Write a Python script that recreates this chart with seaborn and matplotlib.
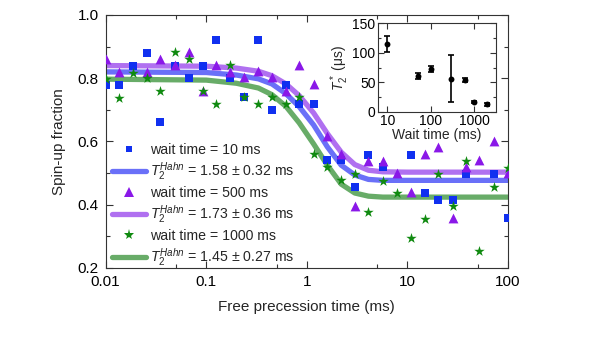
import numpy as np
import pandas as pd
import matplotlib
matplotlib.use("Agg")
import matplotlib.pyplot as plt
from matplotlib.ticker import LogLocator, NullLocator, MultipleLocator, FixedLocator, FormatStrFormatter
from matplotlib.lines import Line2D
import seaborn as sns

# free precession times (ms) of the measured points
t_ms = [0.01, 0.0137, 0.0188, 0.0256, 0.0346, 0.0488, 0.067, 0.092, 0.125, 0.172,
        0.237, 0.33, 0.45, 0.62, 0.84, 1.17, 1.6, 2.2, 3.0, 4.1,
        5.7, 7.9, 10.8, 14.9, 20.2, 28.4, 38.5, 52, 72, 99.5]
nan = np.nan
frac_10 = [0.78, 0.78, 0.84, 0.88, 0.66, 0.84, 0.80, 0.84, 0.92, 0.80,
           0.74, 0.92, 0.70, 0.78, 0.72, 0.72, 0.54, 0.54, 0.456, 0.558,
           0.518, nan, 0.558, 0.437, 0.416, 0.416, 0.497, nan, 0.497, 0.357]
frac_500 = [0.862, 0.821, nan, 0.821, 0.862, 0.842, 0.884, 0.76, 0.842, 0.821,
            0.804, 0.824, 0.804, 0.76, 0.842, 0.781, 0.617, 0.559, 0.397, 0.537,
            0.537, 0.50, 0.439, 0.559, 0.582, 0.358, 0.52, 0.54, 0.60, 0.50]
frac_1000 = [0.797, 0.739, 0.818, 0.80, 0.76, 0.882, 0.86, 0.76, 0.72, 0.841,
             0.741, 0.72, 0.741, 0.72, 0.741, 0.559, 0.519, 0.477, 0.498, 0.377,
             0.476, 0.437, 0.296, 0.356, 0.498, 0.395, 0.537, 0.255, 0.456, 0.517]

# fitted curves
fit_t = [0.01, 0.1, 0.2, 0.33, 0.45, 0.62, 0.84, 1.17, 1.6, 2.2, 3.0, 4.1, 5.7, 10, 100]
fit_10 = [0.820, 0.818, 0.810, 0.798, 0.782, 0.751, 0.710, 0.652, 0.583, 0.525,
          0.494, 0.480, 0.477, 0.477, 0.477]
fit_500 = [0.840, 0.838, 0.832, 0.822, 0.808, 0.782, 0.745, 0.690, 0.625, 0.566,
           0.527, 0.509, 0.504, 0.503, 0.503]
fit_1000 = [0.797, 0.794, 0.784, 0.769, 0.748, 0.711, 0.659, 0.592, 0.525, 0.465,
            0.437, 0.427, 0.424, 0.424, 0.424]

labels_pts = ["wait time = 10 ms", "wait time = 500 ms", "wait time = 1000 ms"]
labels_fit = [r"$T_2^{Hahn}$ = 1.58 ± 0.32 ms",
              r"$T_2^{Hahn}$ = 1.73 ± 0.36 ms",
              r"$T_2^{Hahn}$ = 1.45 ± 0.27 ms"]

# inset: T2* vs wait time
wait_ms = [10, 50, 100, 300, 600, 1000, 2000]
t2star_us = [115, 60, 72, 56, 54, 17, 12.5]
t2star_err = [13, 5, 5, 40, 4, 2, 3]

sns.set_style("ticks")
plt.rcParams['font.family'] = ['Liberation Sans', 'DejaVu Sans']
plt.rcParams['mathtext.fontset'] = 'custom'
plt.rcParams['mathtext.rm'] = 'Liberation Sans'
plt.rcParams['mathtext.it'] = 'Liberation Sans:italic'
plt.rcParams['axes.edgecolor'] = '#333333'
plt.rcParams['xtick.color'] = '#333333'
plt.rcParams['ytick.color'] = '#333333'
plt.rcParams['xtick.labelcolor'] = 'black'
plt.rcParams['ytick.labelcolor'] = 'black'

pt_cols = ['#1030f0', '#8a18e8', '#108a10']
fit_cols = ['#6a70f8', '#b070f0', '#68ac68']
markers = ['s', '^', '*']
msizes = [28, 50, 62]

fig = plt.figure(figsize=(5.92, 3.48), dpi=100)
ax = fig.add_axes([0.1785, 0.230, 0.6795, 0.727])

fits = [fit_10, fit_500, fit_1000]
pts = [frac_10, frac_500, frac_1000]
for i in range(3):
    sns.lineplot(x=fit_t, y=fits[i], ax=ax, color=fit_cols[i], lw=3.8,
                 estimator=None, zorder=2)
for i in range(3):
    df = pd.DataFrame({'t': t_ms, 'f': pts[i]}).dropna()
    sns.scatterplot(data=df, x='t', y='f', ax=ax, color=pt_cols[i], marker=markers[i],
                    s=msizes[i], linewidth=0, zorder=3)

ax.set_xscale('log')
ax.set_xlim(0.01, 100)
ax.set_ylim(0.2, 1.0)
ax.xaxis.set_major_locator(FixedLocator([0.01, 0.1, 1, 10, 100]))
ax.set_xticklabels(["0.01", "0.1", "1", "10", "100"])
ax.xaxis.set_minor_locator(LogLocator(base=10, subs=[5]))
ax.yaxis.set_major_locator(MultipleLocator(0.2))
ax.yaxis.set_minor_locator(MultipleLocator(0.1))
ax.yaxis.set_major_formatter(FormatStrFormatter('%.1f'))
ax.tick_params(which='both', direction='in', top=True, right=True, labelsize=11, width=0.8)
ax.tick_params(which='major', length=5, pad=5)
ax.tick_params(which='minor', length=3)
for s in ax.spines.values():
    s.set_linewidth(0.8)
ax.set_xlabel("Free precession time (ms)", fontsize=11, labelpad=8)
ax.set_ylabel("Spin-up fraction", fontsize=11, labelpad=8)

handles, labs = [], []
for i in range(3):
    handles.append(Line2D([], [], ls='none', marker=markers[i], color=pt_cols[i],
                          markersize=[5, 7, 8][i], markeredgewidth=0))
    labs.append(labels_pts[i])
    handles.append(Line2D([], [], color=fit_cols[i], lw=3.8))
    labs.append(labels_fit[i])
ax.legend(handles, labs, loc='lower left', bbox_to_anchor=(-0.005, -0.035), frameon=False,
          fontsize=10.2, handlelength=2.4, handletextpad=0.25, labelspacing=0.25,
          borderaxespad=0.2)

# inset
axi = fig.add_axes([0.639, 0.679, 0.198, 0.254])
axi.set_facecolor('white')
axi.errorbar(wait_ms, t2star_us, yerr=t2star_err, fmt='none', ecolor='black',
             elinewidth=1.2, capsize=2.5, capthick=1.2, zorder=2)
sns.scatterplot(x=wait_ms, y=t2star_us, ax=axi, color='black', marker='o', s=18,
                linewidth=0, zorder=3)
axi.set_xscale('log')
axi.set_xlim(6.2, 3100)
axi.set_ylim(0, 150)
axi.xaxis.set_major_locator(FixedLocator([10, 100, 1000]))
axi.set_xticklabels(["10", "100", "1000"])
axi.xaxis.set_minor_locator(NullLocator())
axi.yaxis.set_major_locator(MultipleLocator(50))
axi.yaxis.set_minor_locator(MultipleLocator(25))
axi.tick_params(which='both', direction='in', top=True, right=True, labelsize=10,
                width=0.8, pad=2)
axi.tick_params(which='major', length=4)
axi.tick_params(which='minor', length=2.5)
for s in axi.spines.values():
    s.set_linewidth(0.8)
axi.set_xlabel("Wait time (ms)", fontsize=10, labelpad=0)
axi.set_ylabel(r"$T_2^*$ (μs)", fontsize=10, labelpad=1)

fig.savefig("out.png", dpi=100)
